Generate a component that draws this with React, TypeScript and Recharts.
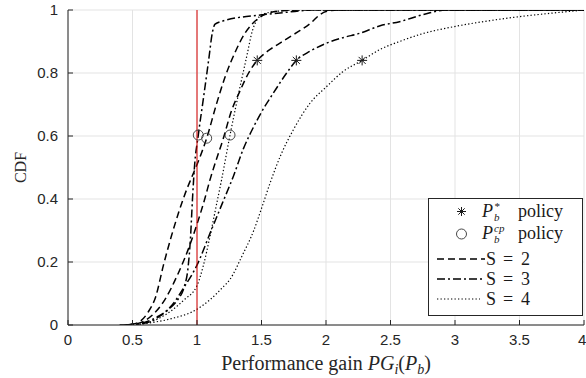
import {
  ComposedChart,
  Line,
  Scatter,
  XAxis,
  YAxis,
  CartesianGrid,
  ReferenceLine
} from "recharts";

const xTicks = [0, 0.5, 1, 1.5, 2, 2.5, 3, 3.5, 4];
const yTicks = [0, 0.2, 0.4, 0.6, 0.8, 1];

// S = 2, P_b^cp policy (dashed)
const s2Cp = [
  [0.4, 0], [0.5, 0.003], [0.56, 0.012], [0.62, 0.04], [0.68, 0.09], [0.74, 0.19],
  [0.8, 0.28], [0.86, 0.36], [0.92, 0.43], [0.96, 0.47], [1.02, 0.53], [1.075, 0.593],
  [1.15, 0.7], [1.22, 0.79], [1.3, 0.87], [1.37, 0.925], [1.42, 0.952], [1.48, 0.975],
  [1.55, 0.99], [1.65, 0.997], [1.8, 1], [4, 1]
];
// S = 3, P_b^cp policy (dash-dot)
const s3Cp = [
  [0.45, 0], [0.55, 0.004], [0.62, 0.012], [0.7, 0.028], [0.78, 0.05], [0.85, 0.08],
  [0.9, 0.12], [0.93, 0.18], [0.95, 0.28], [0.965, 0.4], [0.98, 0.5], [1.01, 0.603],
  [1.05, 0.72], [1.09, 0.84], [1.12, 0.93], [1.14, 0.955], [1.2, 0.965], [1.49, 0.984],
  [1.7, 0.993], [1.9, 1], [4, 1]
];
// S = 4, P_b^cp policy (dotted)
const s4Cp = [
  [0.5, 0], [0.6, 0.006], [0.7, 0.02], [0.8, 0.045], [0.9, 0.08], [1.0, 0.125],
  [1.05, 0.19], [1.1, 0.28], [1.15, 0.38], [1.19, 0.46], [1.256, 0.603], [1.32, 0.73],
  [1.385, 0.852], [1.43, 0.935], [1.46, 0.965], [1.5, 0.984], [1.6, 0.995], [1.8, 1], [4, 1]
];
// S = 2, P_b^* policy (dashed)
const s2Star = [
  [0.45, 0], [0.55, 0.006], [0.65, 0.03], [0.75, 0.08], [0.85, 0.16], [0.95, 0.26],
  [1.0, 0.32], [1.06, 0.4], [1.1, 0.46], [1.13, 0.5], [1.2, 0.587], [1.27, 0.683],
  [1.33, 0.74], [1.4, 0.8], [1.467, 0.84], [1.55, 0.87], [1.64, 0.894], [1.72, 0.915],
  [1.8, 0.935], [1.88, 0.958], [1.95, 0.984], [2.0, 0.995], [2.1, 1], [4, 1]
];
// S = 3, P_b^* policy (dash-dot)
const s3Star = [
  [0.45, 0], [0.6, 0.006], [0.7, 0.025], [0.8, 0.06], [0.9, 0.12], [1.0, 0.19],
  [1.1, 0.29], [1.2, 0.39], [1.28, 0.47], [1.36, 0.56], [1.44, 0.63], [1.52, 0.69],
  [1.59, 0.735], [1.695, 0.8], [1.77, 0.84], [1.88, 0.87], [2.0, 0.894], [2.13, 0.912],
  [2.26, 0.926], [2.42, 0.95], [2.57, 0.963], [2.75, 0.985], [2.93, 1], [4, 1]
];
// S = 4, P_b^* policy (dotted)
const s4Star = [
  [0.5, 0], [0.6, 0.005], [0.8, 0.02], [1.0, 0.05], [1.1, 0.08], [1.2, 0.12],
  [1.256, 0.145], [1.35, 0.22], [1.44, 0.3], [1.5, 0.37], [1.566, 0.45], [1.65, 0.54],
  [1.746, 0.619], [1.876, 0.704], [2.005, 0.757], [2.13, 0.804], [2.28, 0.84], [2.42, 0.875],
  [2.57, 0.9], [2.75, 0.925], [2.99, 0.947], [3.25, 0.965], [3.5, 0.979], [3.75, 0.99], [4, 1]
];

const starX = [1.467, 1.77, 2.28];
const starY = [0.84, 0.84, 0.84];
const circleX = [1.01, 1.075, 1.256];
const circleY = [0.603, 0.593, 0.603];

const toPts = (arr: number[][]) => arr.map(([x, y]) => ({ x, y }));
const starPts = starX.map((x, i) => ({ x, y: starY[i] }));
const circlePts = circleX.map((x, i) => ({ x, y: circleY[i] }));

const AXIS = "#262626";
const SERIF = "'Liberation Serif', 'Times New Roman', serif";
const SANS = "'Liberation Sans', Arial, Helvetica, sans-serif";
const DASH = "7 4";
const DASHDOT = "8 3 2 3";
const DOT = "1.3 2.2";

const Star = ({ cx, cy, r = 5 }: any) => {
  const d = r * 0.707;
  return (
    <g stroke="#1a1a1a" strokeWidth={1}>
      <line x1={cx - r} y1={cy} x2={cx + r} y2={cy} />
      <line x1={cx} y1={cy - r} x2={cx} y2={cy + r} />
      <line x1={cx - d} y1={cy - d} x2={cx + d} y2={cy + d} />
      <line x1={cx - d} y1={cy + d} x2={cx + d} y2={cy - d} />
    </g>
  );
};

const Ring = ({ cx, cy }: any) => (
  <circle cx={cx} cy={cy} r={5} fill="none" stroke="#333" strokeWidth={0.9} />
);

const XTitle = ({ viewBox }: any) => {
  const cx = viewBox.x + viewBox.width / 2;
  const y = viewBox.y + 45;
  return (
    <text x={cx} y={y} textAnchor="middle" fontFamily={SERIF} fontSize={20} fill={AXIS}>
      <tspan>Performance gain </tspan>
      <tspan fontStyle="italic">PG</tspan>
      <tspan fontStyle="italic" fontSize={14} dy={4}>i</tspan>
      <tspan dy={-4}>(</tspan>
      <tspan fontStyle="italic">P</tspan>
      <tspan fontStyle="italic" fontSize={14} dy={4}>b</tspan>
      <tspan dy={-4}>)</tspan>
    </text>
  );
};

const YTitle = ({ viewBox }: any) => {
  const x = 20;
  const y = viewBox.y + viewBox.height / 2;
  return (
    <text
      x={x}
      y={y}
      textAnchor="middle"
      dominantBaseline="central"
      transform={`rotate(-90 ${x} ${y})`}
      fontFamily={SERIF}
      fontSize={16}
      fill={AXIS}
    >
      CDF
    </text>
  );
};

function PolicyLabel({ x, y, sup }: { x: number; y: number; sup: string }) {
  return (
    <g fontFamily={SERIF} fill="#1a1a1a">
      <text x={x} y={y} fontSize={18} fontStyle="italic">P</text>
      <text x={x + 12} y={y - 7} fontSize={11} fontStyle="italic">{sup}</text>
      <text x={x + 12} y={y + 4} fontSize={11} fontStyle="italic">b</text>
      <text x={x + 36} y={y} fontSize={18}>policy</text>
    </g>
  );
}

function SLabel({ y, n }: { y: number; n: number }) {
  return (
    <g fontFamily={SERIF} fontSize={18} fill="#1a1a1a">
      <text x={58} y={y}>S</text>
      <text x={75} y={y}>=</text>
      <text x={93} y={y}>{n}</text>
    </g>
  );
}

function LegendBox() {
  return (
    <svg
      width={156}
      height={119}
      style={{ position: "absolute", left: 428, top: 198 }}
    >
      <rect x={0.5} y={0.5} width={154} height={117} fill="#fff" stroke={AXIS} strokeWidth={1} />
      <Star cx={33.5} cy={13.5} r={4.5} />
      <PolicyLabel x={54} y={19} sup="*" />
      <Ring cx={33.5} cy={36} />
      <PolicyLabel x={54} y={41} sup="cp" />
      <g stroke="#000" strokeWidth={1.4}>
        <line x1={9} y1={61} x2={57} y2={61} strokeDasharray={DASH} />
        <line x1={9} y1={81} x2={57} y2={81} strokeDasharray={DASHDOT} />
        <line x1={9} y1={101} x2={52} y2={101} strokeDasharray={DOT} strokeWidth={1.1} />
      </g>
      <SLabel y={67} n={2} />
      <SLabel y={87} n={3} />
      <SLabel y={107} n={4} />
    </svg>
  );
}

export default function App() {
  return (
    <div style={{ position: "absolute", left: 0, top: 0, width: 586, height: 378, background: "#fff" }}>
      <ComposedChart
        width={586}
        height={378}
        margin={{ top: 10, right: 2, bottom: 0, left: 0 }}
      >
        <CartesianGrid stroke="#e3e3e3" strokeWidth={1} />
        <XAxis
          dataKey="x"
          type="number"
          domain={[0, 4]}
          ticks={xTicks}
          allowDataOverflow
          height={53}
          stroke={AXIS}
          tickSize={-5}
          tickMargin={14}
          tick={{ fill: AXIS, fontSize: 15, fontFamily: SANS }}
          label={{ content: (p: any) => <XTitle {...p} /> }}
        />
        <XAxis
          xAxisId="top"
          orientation="top"
          type="number"
          domain={[0, 4]}
          ticks={xTicks}
          allowDataOverflow
          height={0}
          stroke={AXIS}
          tickSize={-5}
          tick={false}
        />
        <YAxis
          type="number"
          domain={[0, 1]}
          ticks={yTicks}
          allowDataOverflow
          width={68}
          stroke={AXIS}
          tickSize={-5}
          tickMargin={15}
          tick={{ fill: AXIS, fontSize: 15, fontFamily: SANS }}
          label={{ content: (p: any) => <YTitle {...p} /> }}
        />
        <YAxis
          yAxisId="right"
          orientation="right"
          type="number"
          domain={[0, 1]}
          ticks={yTicks}
          allowDataOverflow
          width={0}
          stroke={AXIS}
          tickSize={-5}
          tick={false}
        />
        <Line data={toPts(s2Cp)} dataKey="y" type="monotone" stroke="#000" strokeWidth={1.5} strokeDasharray={DASH} dot={false} isAnimationActive={false} />
        <Line data={toPts(s3Cp)} dataKey="y" type="monotone" stroke="#000" strokeWidth={1.5} strokeDasharray={DASHDOT} dot={false} isAnimationActive={false} />
        <Line data={toPts(s4Cp)} dataKey="y" type="monotone" stroke="#000" strokeWidth={1.2} strokeDasharray={DOT} dot={false} isAnimationActive={false} />
        <Line data={toPts(s2Star)} dataKey="y" type="monotone" stroke="#000" strokeWidth={1.5} strokeDasharray={DASH} dot={false} isAnimationActive={false} />
        <Line data={toPts(s3Star)} dataKey="y" type="monotone" stroke="#000" strokeWidth={1.5} strokeDasharray={DASHDOT} dot={false} isAnimationActive={false} />
        <Line data={toPts(s4Star)} dataKey="y" type="monotone" stroke="#000" strokeWidth={1.2} strokeDasharray={DOT} dot={false} isAnimationActive={false} />
        <ReferenceLine x={1} stroke="#d80000" strokeWidth={1} />
        <Scatter data={starPts} dataKey="y" shape={(p: any) => <Star {...p} />} isAnimationActive={false} />
        <Scatter data={circlePts} dataKey="y" shape={(p: any) => <Ring {...p} />} isAnimationActive={false} />
      </ComposedChart>
      <LegendBox />
    </div>
  );
}
